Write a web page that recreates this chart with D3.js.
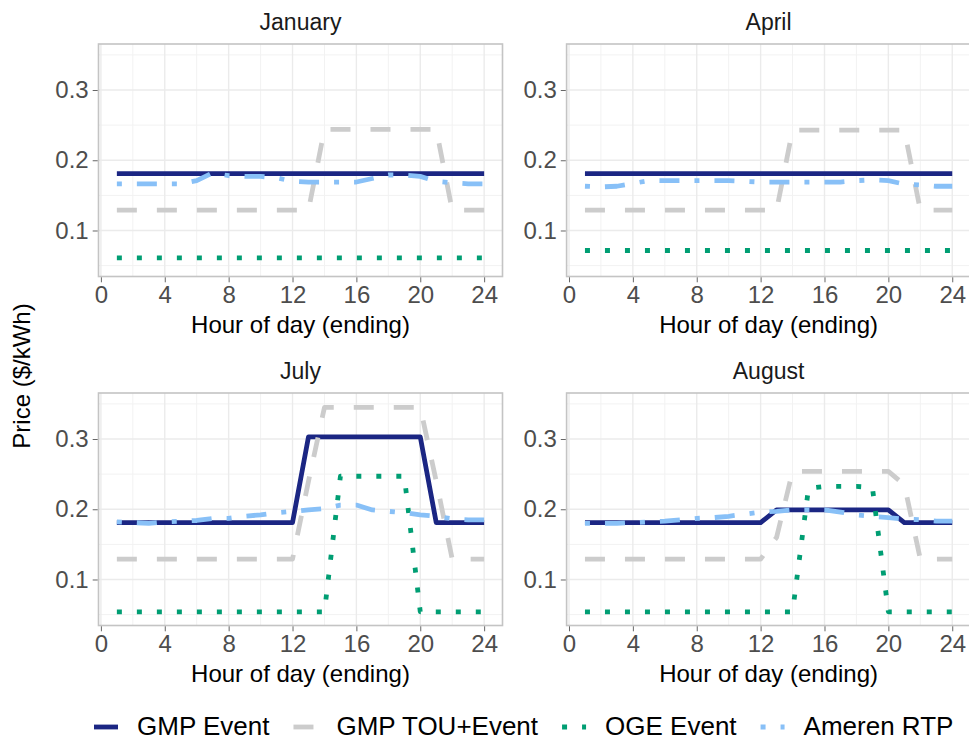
<!DOCTYPE html>
<html>
<head>
<meta charset="utf-8">
<script src="https://cdn.jsdelivr.net/npm/d3@7/dist/d3.min.js"></script>
<style>
  body { margin: 0; background: #ffffff; }
  text { font-family: "Liberation Sans", Arial, sans-serif; }
</style>
</head>
<body>
<svg id="chart" width="969" height="740"></svg>
<script>
// ---- data: hourly price ($/kWh) by hour ending ----
const hours = [1,2,3,4,5,6,7,8,9,10,11,12,13,14,15,16,17,18,19,20,21,22,23,24];
const months = ["January", "April", "July", "August"];
const seriesNames = ["GMP Event", "GMP TOU+Event", "OGE Event", "Ameren RTP"];
const xTicks = [0, 4, 8, 12, 16, 20, 24];
const yTicks = [0.1, 0.2, 0.3];

const gmpEventJan = [0.181,0.181,0.181,0.181,0.181,0.181,0.181,0.181,0.181,0.181,0.181,0.181,0.181,0.181,0.181,0.181,0.181,0.181,0.181,0.181,0.181,0.181,0.181,0.181];
const gmpEventApr = [0.181,0.181,0.181,0.181,0.181,0.181,0.181,0.181,0.181,0.181,0.181,0.181,0.181,0.181,0.181,0.181,0.181,0.181,0.181,0.181,0.181,0.181,0.181,0.181];
const gmpEventJul = [0.181,0.181,0.181,0.181,0.181,0.181,0.181,0.181,0.181,0.181,0.181,0.181,0.303,0.303,0.303,0.303,0.303,0.303,0.303,0.303,0.181,0.181,0.181,0.181];
const gmpEventAug = [0.181,0.181,0.181,0.181,0.181,0.181,0.181,0.181,0.181,0.181,0.181,0.181,0.199,0.199,0.199,0.199,0.199,0.199,0.199,0.199,0.181,0.181,0.181,0.181];

const gmpTouJan = [0.129,0.129,0.129,0.129,0.129,0.129,0.129,0.129,0.129,0.129,0.129,0.129,0.129,0.244,0.244,0.244,0.244,0.244,0.244,0.244,0.244,0.129,0.129,0.129];
const gmpTouApr = [0.129,0.129,0.129,0.129,0.129,0.129,0.129,0.129,0.129,0.129,0.129,0.129,0.129,0.243,0.243,0.243,0.243,0.243,0.243,0.243,0.243,0.129,0.129,0.129];
const gmpTouJul = [0.129,0.129,0.129,0.129,0.129,0.129,0.129,0.129,0.129,0.129,0.129,0.129,0.240,0.345,0.345,0.345,0.345,0.345,0.345,0.345,0.240,0.129,0.129,0.129];
const gmpTouAug = [0.129,0.129,0.129,0.129,0.129,0.129,0.129,0.129,0.129,0.129,0.129,0.129,0.160,0.254,0.254,0.254,0.254,0.254,0.254,0.254,0.235,0.129,0.129,0.129];

const ogeEventJan = [0.061,0.061,0.061,0.061,0.061,0.061,0.061,0.061,0.061,0.061,0.061,0.061,0.061,0.061,0.061,0.061,0.061,0.061,0.061,0.061,0.061,0.061,0.061,0.061];
const ogeEventApr = [0.0715,0.0715,0.0715,0.0715,0.0715,0.0715,0.0715,0.0715,0.0715,0.0715,0.0715,0.0715,0.0715,0.0715,0.0715,0.0715,0.0715,0.0715,0.0715,0.0715,0.0715,0.0715,0.0715,0.0715];
const ogeEventJul = [0.054,0.054,0.054,0.054,0.054,0.054,0.054,0.054,0.054,0.054,0.054,0.054,0.054,0.054,0.247,0.247,0.247,0.247,0.247,0.054,0.054,0.054,0.054,0.054];
const ogeEventAug = [0.054,0.054,0.054,0.054,0.054,0.054,0.054,0.054,0.054,0.054,0.054,0.054,0.054,0.054,0.230,0.2325,0.2325,0.2325,0.231,0.054,0.054,0.054,0.054,0.054];

const amerenRtpJan = [0.1665,0.1665,0.1665,0.1665,0.1665,0.171,0.182,0.178,0.177,0.177,0.175,0.170,0.169,0.169,0.169,0.169,0.174,0.179,0.179,0.177,0.170,0.168,0.1665,0.1665];
const amerenRtpApr = [0.163,0.162,0.163,0.167,0.171,0.171,0.171,0.171,0.171,0.171,0.170,0.169,0.169,0.169,0.169,0.169,0.169,0.171,0.172,0.171,0.166,0.165,0.163,0.163];
const amerenRtpJul = [0.182,0.181,0.180,0.182,0.183,0.184,0.187,0.187,0.190,0.192,0.195,0.197,0.199,0.201,0.206,0.206,0.199,0.197,0.195,0.192,0.190,0.1865,0.185,0.185];
const amerenRtpAug = [0.180,0.180,0.180,0.181,0.182,0.183,0.185,0.187,0.188,0.190,0.193,0.196,0.197,0.199,0.199,0.199,0.196,0.192,0.190,0.188,0.186,0.185,0.183,0.183];

// ---- layout / style ----
const W = 969, H = 740;
const panelW = 404, panelH = 232.5;
const panelPos = {
  January: [98.5, 44],
  April:   [566.6, 44],
  July:    [98.5, 393],
  August:  [566.6, 393]
};
const lineStyle = {
  "GMP Event":     { color: "#1b2683", dash: null },
  "GMP TOU+Event": { color: "#cccccc", dash: "20,20" },
  "OGE Event":     { color: "#009e73", dash: "5,15" },
  "Ameren RTP":    { color: "#88c0f7", dash: "5,15,20,15" }
};
const lineW = 4.8;
const tickColor = "#4d4d4d";

const seriesByMonth = {
  January: [gmpEventJan, gmpTouJan, ogeEventJan, amerenRtpJan],
  April:   [gmpEventApr, gmpTouApr, ogeEventApr, amerenRtpApr],
  July:    [gmpEventJul, gmpTouJul, ogeEventJul, amerenRtpJul],
  August:  [gmpEventAug, gmpTouAug, ogeEventAug, amerenRtpAug]
};

const svg = d3.select("#chart");
svg.append("rect").attr("width", W).attr("height", H).attr("fill", "#ffffff");

// shared limits, expanded 5% like a ggplot continuous scale
const xExt = d3.extent(hours);
const xPad = (xExt[1] - xExt[0]) * 0.05;
const yDomain = [0.0345, 0.3655];

months.forEach(month => {
  const [px, py] = panelPos[month];
  const x = d3.scaleLinear().domain([xExt[0] - xPad, xExt[1] + xPad]).range([px, px + panelW]);
  const y = d3.scaleLinear().domain(yDomain).range([py + panelH, py]);
  const g = svg.append("g");

  // panel background + grid
  g.append("rect").attr("x", px).attr("y", py).attr("width", panelW).attr("height", panelH).attr("fill", "#ffffff");
  const xMinor = [2, 6, 10, 14, 18, 22];
  const yMinor = [0.05, 0.15, 0.25, 0.35];
  g.selectAll(".xminor").data(xMinor).join("line")
    .attr("x1", d => x(d)).attr("x2", d => x(d)).attr("y1", py).attr("y2", py + panelH)
    .attr("stroke", "#f2f2f2").attr("stroke-width", 1);
  g.selectAll(".yminor").data(yMinor).join("line")
    .attr("x1", px).attr("x2", px + panelW).attr("y1", d => y(d)).attr("y2", d => y(d))
    .attr("stroke", "#f2f2f2").attr("stroke-width", 1);
  g.selectAll(".xmajor").data(xTicks).join("line")
    .attr("x1", d => x(d)).attr("x2", d => x(d)).attr("y1", py).attr("y2", py + panelH)
    .attr("stroke", "#ebebeb").attr("stroke-width", 1.4);
  g.selectAll(".ymajor").data(yTicks).join("line")
    .attr("x1", px).attr("x2", px + panelW).attr("y1", d => y(d)).attr("y2", d => y(d))
    .attr("stroke", "#ebebeb").attr("stroke-width", 1.4);

  // series
  const line = d3.line().x((d, i) => x(hours[i])).y(d => y(d));
  const clipId = "clip-" + month;
  svg.append("clipPath").attr("id", clipId).append("rect")
    .attr("x", px).attr("y", py).attr("width", panelW).attr("height", panelH);
  const lg = g.append("g").attr("clip-path", `url(#${clipId})`);
  seriesByMonth[month].forEach((vals, si) => {
    const st = lineStyle[seriesNames[si]];
    lg.append("path").datum(vals)
      .attr("d", line)
      .attr("fill", "none")
      .attr("stroke", st.color)
      .attr("stroke-width", lineW)
      .attr("stroke-linejoin", "round")
      .attr("stroke-linecap", "butt")
      .attr("stroke-dasharray", st.dash);
  });

  // panel border
  g.append("rect").attr("x", px).attr("y", py).attr("width", panelW).attr("height", panelH)
    .attr("fill", "none").attr("stroke", "#c4c4c4").attr("stroke-width", 1.6);

  // axes
  const xAxis = d3.axisBottom(x).tickValues(xTicks).tickSize(5).tickPadding(4).tickFormat(d3.format("d"));
  const ax = g.append("g").attr("transform", `translate(0,${py + panelH + 0.8})`).call(xAxis);
  ax.select(".domain").remove();
  ax.selectAll(".tick line").attr("stroke", "#666666").attr("stroke-width", 1);
  ax.selectAll(".tick text").attr("fill", tickColor).attr("font-size", 24)
    .attr("font-family", "Liberation Sans, Arial, sans-serif");

  const yAxis = d3.axisLeft(y).tickValues(yTicks).tickSize(5).tickPadding(4).tickFormat(d3.format(".1f"));
  const ay = g.append("g").attr("transform", `translate(${px - 0.8},0)`).call(yAxis);
  ay.select(".domain").remove();
  ay.selectAll(".tick line").attr("stroke", "#666666").attr("stroke-width", 1);
  ay.selectAll(".tick text").attr("fill", tickColor).attr("font-size", 24)
    .attr("font-family", "Liberation Sans, Arial, sans-serif");

  // strip title and x axis title
  g.append("text").attr("x", px + panelW / 2).attr("y", py - 14)
    .attr("text-anchor", "middle").attr("font-size", 23).attr("fill", "#1a1a1a").text(month);
  g.append("text").attr("x", px + panelW / 2).attr("y", py + panelH + 56)
    .attr("text-anchor", "middle").attr("font-size", 24).attr("fill", "#000000").text("Hour of day (ending)");
});

// y axis title
svg.append("text")
  .attr("transform", "translate(30,376) rotate(-90)")
  .attr("text-anchor", "middle").attr("font-size", 24).attr("fill", "#000000")
  .text("Price ($/kWh)");

// legend along the bottom
const legY = 727;
const keyLen = 24, keyGap = 19, itemGap = 24;
const leg = svg.append("g");
let cx = 94;
seriesNames.forEach(name => {
  const st = lineStyle[name];
  leg.append("line").attr("x1", cx).attr("x2", cx + keyLen).attr("y1", legY).attr("y2", legY)
    .attr("stroke", st.color).attr("stroke-width", lineW).attr("stroke-dasharray", st.dash);
  const t = leg.append("text").attr("x", cx + keyLen + keyGap).attr("y", legY + 7.5)
    .attr("font-size", 26).attr("fill", "#000000").text(name);
  cx += keyLen + keyGap + t.node().getComputedTextLength() + itemGap;
});
</script>
</body>
</html>
